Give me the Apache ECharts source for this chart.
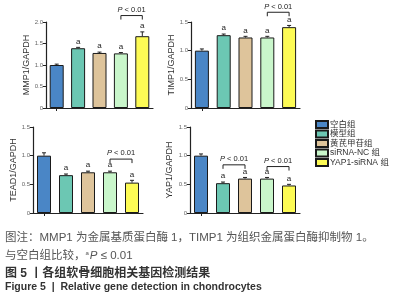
<!DOCTYPE html>
<html>
<head>
<meta charset="utf-8">
<script src="https://cdn.jsdelivr.net/npm/echarts@6/dist/echarts.min.js"></script>
<style>
  html, body { margin: 0; padding: 0; background: #fff; }
  #chart { width: 398px; height: 300px; }
</style>
</head>
<body>
<div id="chart"></div>
<script>
const groups = ['空白组', '模型组', '黄芪甲苷组', 'siRNA-NC 组', 'YAP1-siRNA 组'];
const sigMark = ['', 'a', 'a', 'a', 'a'];

const mmp1 = [1.00, 1.39, 1.28, 1.27, 1.67];
const mmp1Err = [0.02, 0.02, 0.02, 0.02, 0.10];
const timp1 = [1.00, 1.27, 1.23, 1.23, 1.41];
const timp1Err = [0.03, 0.02, 0.02, 0.02, 0.03];
const tead1 = [1.00, 0.66, 0.71, 0.71, 0.53];
const tead1Err = [0.05, 0.02, 0.02, 0.02, 0.04];
const yap1 = [1.00, 0.52, 0.60, 0.60, 0.48];
const yap1Err = [0.03, 0.02, 0.02, 0.02, 0.02];

// [from bar, to bar, height]
const mmp1Brackets = [[3, 4, 2.15]];
const timp1Brackets = [[3, 4, 1.67]];
const tead1Brackets = [[3, 4, 0.94]];
const yap1Brackets = [[1, 2, 0.84], [3, 4, 0.81]];

const colors = ['#4a86c6', '#6cc7b3', '#dec49b', '#c9f6cb', '#fdfb55'];
const font = '"Liberation Sans", "Noto Sans CJK SC", sans-serif';

const panels = [
  { name: 'MMP1/GAPDH', values: mmp1, errs: mmp1Err, brackets: mmp1Brackets, max: 2.0,
    grid: { left: 46, top: 22, width: 107, height: 86 }, nameGap: 13 },
  { name: 'TIMP1/GAPDH', values: timp1, errs: timp1Err, brackets: timp1Brackets, max: 1.5,
    grid: { left: 191, top: 22, width: 109, height: 86 }, nameGap: 13 },
  { name: 'TEAD1/GAPDH', values: tead1, errs: tead1Err, brackets: tead1Brackets, max: 1.5,
    grid: { left: 33, top: 127, width: 110, height: 86 }, nameGap: 12 },
  { name: 'YAP1/GAPDH', values: yap1, errs: yap1Err, brackets: yap1Brackets, max: 1.5,
    grid: { left: 190, top: 127, width: 110, height: 86 }, nameGap: 16 }
];

function renderErr(params, api) {
  const i = api.value(0), v = api.value(1), e = api.value(2);
  const base = api.coord([i, v]);
  const top = api.coord([i, v + e]);
  const children = [
    { type: 'line', shape: { x1: base[0], y1: base[1], x2: top[0], y2: top[1] }, style: { stroke: '#222', lineWidth: 1 } },
    { type: 'line', shape: { x1: top[0] - 2, y1: top[1], x2: top[0] + 2, y2: top[1] }, style: { stroke: '#222', lineWidth: 1 } }
  ];
  if (sigMark[i]) {
    children.push({ type: 'text', x: top[0], y: top[1] - 2,
      style: { text: sigMark[i], align: 'center', verticalAlign: 'bottom', fontSize: 8, fill: '#222', fontFamily: font } });
  }
  return { type: 'group', children };
}

function renderBracket(params, api) {
  const p1 = api.coord([api.value(0), api.value(2)]);
  const p2 = api.coord([api.value(1), api.value(2)]);
  return {
    type: 'group',
    children: [
      { type: 'polyline', shape: { points: [[p1[0], p1[1] + 4], [p1[0], p1[1]], [p2[0], p1[1]], [p2[0], p1[1] + 4]] },
        style: { stroke: '#222', lineWidth: 1, fill: null } },
      { type: 'text', x: (p1[0] + p2[0]) / 2, y: p1[1] - 2,
        style: { text: '{i|P} < 0.01', align: 'center', verticalAlign: 'bottom', fontSize: 7.5, fill: '#222', fontFamily: font,
          rich: { i: { fontStyle: 'italic', fontSize: 7.5, fontFamily: font, fill: '#222' } } } }
    ]
  };
}

const grid = [], xAxis = [], yAxis = [], series = [];
panels.forEach((p, k) => {
  grid.push(p.grid);
  xAxis.push({
    type: 'category', gridIndex: k, data: groups,
    axisLine: { lineStyle: { color: '#222', width: 1.2 } },
    axisTick: { show: true, alignWithLabel: true, length: 3, lineStyle: { color: '#222' } },
    axisLabel: { show: false }
  });
  yAxis.push({
    type: 'value', gridIndex: k, min: 0, max: p.max, interval: 0.5,
    name: p.name, nameLocation: 'middle', nameGap: p.nameGap,
    nameTextStyle: { fontSize: 9, color: '#333', fontFamily: font },
    axisLine: { show: true, lineStyle: { color: '#222', width: 1.2 } },
    axisTick: { show: true, length: 3, lineStyle: { color: '#222' } },
    axisLabel: { fontSize: 6, color: '#666', margin: 3, fontFamily: font,
      formatter: v => v === 0 ? '0' : v.toFixed(1) },
    splitLine: { show: false }
  });
  groups.forEach((g, i) => {
    series.push({
      type: 'bar', name: g, xAxisIndex: k, yAxisIndex: k,
      barWidth: 14, barGap: '-100%',
      data: p.values.map((v, j) => j === i ? v : '-'),
      itemStyle: { color: colors[i], borderColor: '#1a1a1a', borderWidth: 1 }
    });
  });
  series.push({
    type: 'custom', name: 'err' + k, xAxisIndex: k, yAxisIndex: k, clip: false, z: 5,
    data: p.values.map((v, i) => [i, v, p.errs[i]]),
    renderItem: renderErr
  });
  series.push({
    type: 'custom', name: 'sig' + k, xAxisIndex: k, yAxisIndex: k, clip: false, z: 5,
    data: p.brackets,
    renderItem: renderBracket
  });
});

const chart = echarts.init(document.getElementById('chart'), null, { renderer: 'canvas' });
chart.setOption({
  animation: false,
  backgroundColor: '#fff',
  grid, xAxis, yAxis, series,
  legend: {
    data: groups, orient: 'vertical', left: 310, top: 115,
    itemWidth: 12, itemHeight: 7, itemGap: 0.5,
    icon: 'rect',
    textStyle: { fontSize: 8.5, color: '#333', fontFamily: font, padding: [0, 0, 0, -3] }
  },
  graphic: [
    { type: 'text', left: 5, top: 232,
      style: { text: '图注：MMP1 为金属基质蛋白酶 1，TIMP1 为组织金属蛋白酶抑制物 1。', fontSize: 11.5, fill: '#555', fontFamily: font } },
    { type: 'text', left: 5, top: 250,
      style: { text: '与空白组比较，{s|a}{i|P} ≤ 0.01', fontSize: 11.5, fill: '#555', fontFamily: font,
        rich: { s: { fontSize: 6, verticalAlign: 'top', fill: '#555', padding: [0, 1, 5, 0] },
                i: { fontStyle: 'italic', fontSize: 11.5, fill: '#555', fontFamily: font } } } },
    { type: 'text', left: 5, top: 268,
      style: { text: '图 5 丨各组软骨细胞相关基因检测结果', fontSize: 12, fontWeight: 'bold', fill: '#333', fontFamily: font } },
    { type: 'text', left: 5, top: 282,
      style: { text: 'Figure 5  |  Relative gene detection in chondrocytes', fontSize: 10.5, fontWeight: 'bold', fill: '#333', fontFamily: font } }
  ]
});
</script>
</body>
</html>
